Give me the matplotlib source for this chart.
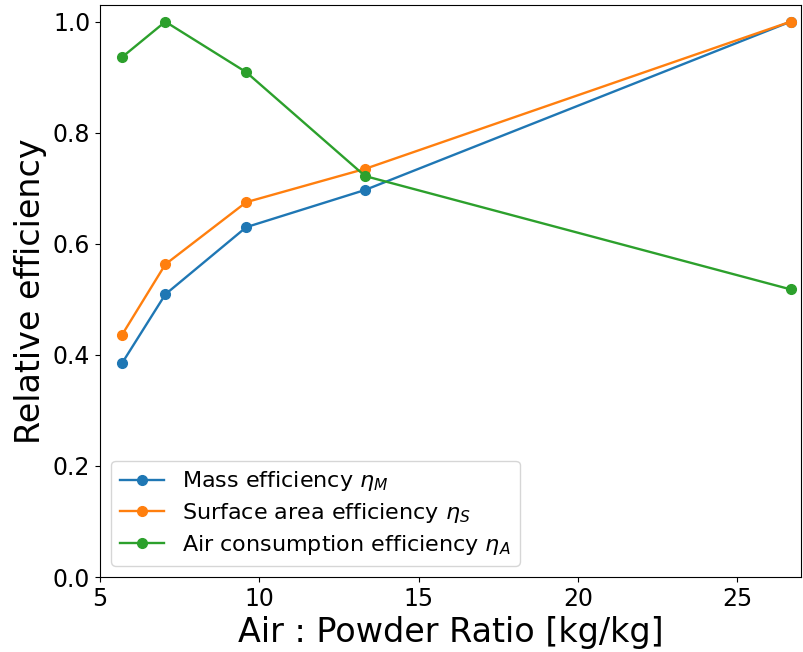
import matplotlib
matplotlib.use("Agg")
import matplotlib.pyplot as plt

ratio = [5.69, 7.05, 9.59, 13.32, 26.67]
mass_eff = [0.385, 0.509, 0.630, 0.697, 1.0]
surface_eff = [0.436, 0.563, 0.675, 0.735, 1.0]
air_eff = [0.936, 1.0, 0.909, 0.722, 0.518]

labels = [r"Mass efficiency $\eta_M$",
          r"Surface area efficiency $\eta_S$",
          r"Air consumption efficiency $\eta_A$"]
xticks = [5, 10, 15, 20, 25]

fig = plt.figure(figsize=(8.04, 6.52), dpi=100)
ax = fig.add_axes([0.1244, 0.115, 0.8719, 0.8773])

for y, lab in zip([mass_eff, surface_eff, air_eff], labels):
    ax.plot(ratio, y, "o-", label=lab, lw=1.7, ms=7)

ax.set_xlim(5, 27)
ax.set_ylim(0, 1.03)
ax.set_xticks(xticks)
ax.set_xlabel("Air : Powder Ratio [kg/kg]", fontsize=24)
ax.set_ylabel("Relative efficiency", fontsize=24)
ax.tick_params(labelsize=17)
ax.legend(loc="lower left", fontsize=16, labelspacing=0.35)

fig.savefig("out.png", dpi=100)
